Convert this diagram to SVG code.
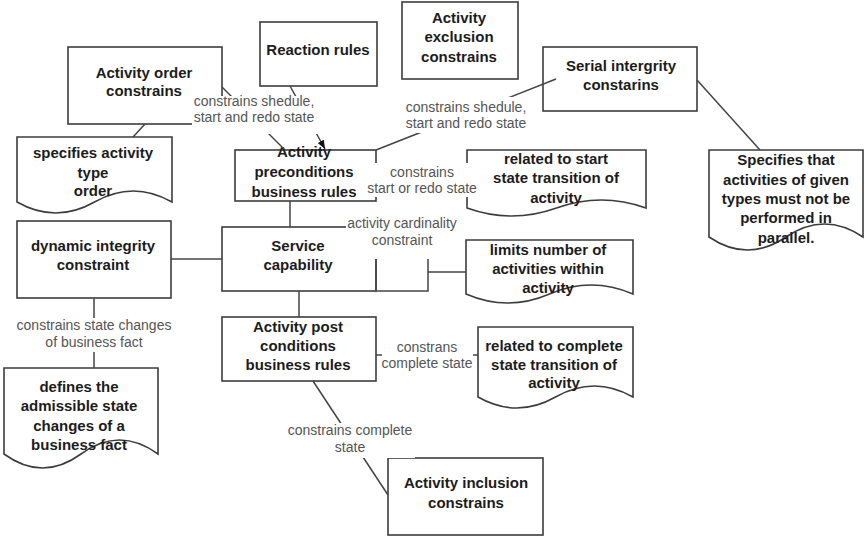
<svg xmlns="http://www.w3.org/2000/svg" width="865" height="538" viewBox="0 0 865 538">
  <defs>
    <style>
      .box { fill: #ffffff; stroke: #3c3c3c; stroke-width: 1.6; }
      .t { font-family: "Liberation Sans", Arial, sans-serif; font-weight: bold; font-size: 15px; fill: #1c1c1c; text-anchor: middle; }
      .lbl { font-family: "Liberation Sans", Arial, sans-serif; font-size: 14px; fill: #555555; text-anchor: middle; }
      .edge { fill: none; stroke: #444444; stroke-width: 1.5; }
      .lbg { fill: #ffffff; }
    </style>
    <marker id="arrow" viewBox="0 0 10 8" refX="10" refY="4" markerWidth="9" markerHeight="7" markerUnits="userSpaceOnUse" orient="auto">
      <path d="M0,0 L10,4 L0,8 z" fill="#111111"/>
    </marker>
  </defs>
  <rect width="865" height="538" fill="#ffffff"/>

  <!-- nodes -->
  <g id="activity-order">
    <rect class="box" x="68" y="47" width="154" height="77"/>
    <text class="t" x="144" y="78">Activity order</text>
    <text class="t" x="144" y="96">constrains</text>
  </g>
  <g id="reaction-rules">
    <rect class="box" x="260" y="22" width="117" height="64"/>
    <text class="t" x="318" y="55">Reaction rules</text>
  </g>
  <g id="activity-exclusion">
    <rect class="box" x="402" y="2" width="116" height="77"/>
    <text class="t" x="459" y="23">Activity</text>
    <text class="t" x="459" y="42">exclusion</text>
    <text class="t" x="459" y="62">constrains</text>
  </g>
  <g id="serial-integrity">
    <rect class="box" x="543" y="47" width="154" height="64"/>
    <text class="t" x="621" y="71">Serial intergrity</text>
    <text class="t" x="621" y="90">constarins</text>
  </g>
  <g id="specifies-parallel">
    <path class="box" d="M709,150 H863 V237 Q824.5,211 786,237 Q747.5,263 709,237 Z"/>
    <text class="t" x="786" y="165">Specifies that</text>
    <text class="t" x="786" y="185">activities of given</text>
    <text class="t" x="786" y="204">types must not be</text>
    <text class="t" x="786" y="223">performed in</text>
    <text class="t" x="786" y="243">parallel.</text>
  </g>
  <g id="specifies-order">
    <path class="box" d="M17,137 H172 V202 Q133.25,180 94.5,202 Q55.75,224 17,202 Z"/>
    <text class="t" x="93" y="158">specifies activity</text>
    <text class="t" x="93" y="178">type</text>
    <text class="t" x="93" y="196">order</text>
  </g>
  <g id="activity-preconditions">
    <rect class="box" x="235" y="150" width="141" height="51"/>
    <text class="t" x="304" y="157">Activity</text>
    <text class="t" x="304" y="177">preconditions</text>
    <text class="t" x="304" y="197">business rules</text>
  </g>
  <g id="related-start">
    <path class="box" d="M467,150 H646 V208 Q601.25,192 556.5,208 Q511.75,224 467,208 Z"/>
    <text class="t" x="556" y="164">related to start</text>
    <text class="t" x="556" y="183">state transition of</text>
    <text class="t" x="556" y="203">activity</text>
  </g>
  <g id="dynamic-integrity">
    <rect class="box" x="17" y="221" width="154" height="77"/>
    <text class="t" x="93" y="251">dynamic integrity</text>
    <text class="t" x="93" y="270">constraint</text>
  </g>
  <g id="service-capability">
    <rect class="box" x="222" y="227" width="154" height="64"/>
    <text class="t" x="298" y="251">Service</text>
    <text class="t" x="298" y="270">capability</text>
  </g>
  <g id="limits-number">
    <path class="box" d="M466,240 H633 V294 Q591.25,276 549.5,294 Q507.75,312 466,294 Z"/>
    <text class="t" x="548" y="255">limits number of</text>
    <text class="t" x="548" y="274">activities within</text>
    <text class="t" x="548" y="293">activity</text>
  </g>
  <g id="activity-postconditions">
    <rect class="box" x="222" y="317" width="154" height="64"/>
    <text class="t" x="298" y="332">Activity post</text>
    <text class="t" x="298" y="351">conditions</text>
    <text class="t" x="298" y="370">business rules</text>
  </g>
  <g id="related-complete">
    <path class="box" d="M478,327 H633 V397 Q594.25,375 555.5,397 Q516.75,419 478,397 Z"/>
    <text class="t" x="554" y="351">related to complete</text>
    <text class="t" x="554" y="370">state transition of</text>
    <text class="t" x="554" y="388">activity</text>
  </g>
  <g id="defines-admissible">
    <path class="box" d="M4,368 H158 V454 Q119.5,426 81,454 Q42.5,482 4,454 Z"/>
    <text class="t" x="79" y="392">defines the</text>
    <text class="t" x="79" y="411">admissible state</text>
    <text class="t" x="79" y="431">changes of a</text>
    <text class="t" x="79" y="450">business fact</text>
  </g>
  <g id="activity-inclusion">
    <rect class="box" x="388" y="458" width="155" height="77"/>
    <text class="t" x="466" y="488">Activity inclusion</text>
    <text class="t" x="466" y="508">constrains</text>
  </g>

  <!-- connectors -->
  <g id="connectors">
    <path class="edge" d="M222,87 L284,149"/>
    <path class="edge" d="M290,86 L325,149" marker-end="url(#arrow)"/>
    <path class="edge" d="M556,79 L376,150"/>
    <path class="edge" d="M697,80 L760,150"/>
    <path class="edge" d="M145,124 L133,137"/>
    <path class="edge" d="M376,175 H467"/>
    <path class="edge" d="M290,201 V227"/>
    <path class="edge" d="M171,259 H222"/>
    <path class="edge" d="M376,259 V291 H428 V240"/>
    <path class="edge" d="M428,272 H466"/>
    <path class="edge" d="M299,291 V317"/>
    <path class="edge" d="M94,298 V368"/>
    <path class="edge" d="M376,355 H478"/>
    <path class="edge" d="M313,381 L388,495"/>

    <!-- connector labels -->
    <g id="label-order">
      <rect class="lbg" x="192" y="96" width="126" height="38"/>
      <text class="lbl" x="254" y="106">constrains shedule,</text>
      <text class="lbl" x="254" y="122">start and redo state</text>
    </g>
    <g id="label-serial">
      <rect class="lbg" x="403" y="97" width="127" height="36"/>
      <text class="lbl" x="466" y="112">constrains shedule,</text>
      <text class="lbl" x="466" y="128">start and redo state</text>
    </g>
    <g id="label-start">
      <rect class="lbg" x="364" y="163" width="116" height="34"/>
      <text class="lbl" x="422" y="177">constrains</text>
      <text class="lbl" x="422" y="193">start or redo state</text>
    </g>
    <g id="label-cardinality">
      <rect class="lbg" x="346" y="210" width="114" height="49"/>
      <text class="lbl" x="402" y="228">activity cardinality</text>
      <text class="lbl" x="402" y="245">constraint</text>
    </g>
    <g id="label-state-changes">
      <rect class="lbg" x="13" y="318" width="162" height="34"/>
      <text class="lbl" x="94" y="330">constrains state changes</text>
      <text class="lbl" x="94" y="347">of business fact</text>
    </g>
    <g id="label-complete">
      <rect class="lbg" x="382" y="338" width="91" height="34"/>
      <text class="lbl" x="427" y="352">constrans</text>
      <text class="lbl" x="427" y="368">complete state</text>
    </g>
    <g id="label-inclusion">
      <rect class="lbg" x="285" y="423" width="130" height="35"/>
      <text class="lbl" x="350" y="435">constrains complete</text>
      <text class="lbl" x="350" y="452">state</text>
    </g>
  </g>
</svg>
